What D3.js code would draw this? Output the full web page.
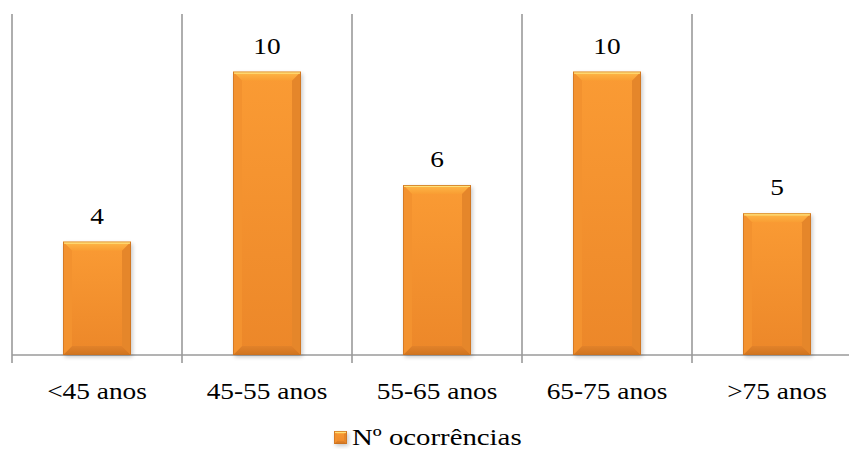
<!DOCTYPE html>
<html><head><meta charset="utf-8">
<script src="https://cdn.jsdelivr.net/npm/d3@7"></script>
<style>body{margin:0;background:#fff}svg{display:block}</style>
</head><body><svg id="c" width="849" height="450"></svg>
<script>
const categories = ["<45 anos", "45-55 anos", "55-65 anos", "65-75 anos", ">75 anos"];
const values = [4, 10, 6, 10, 5];
const seriesName = "Nº ocorrências";

(function(){
const FONT = "'Liberation Serif', 'Times New Roman', Times, serif";
const svg = d3.select("#c");
const W = 849;
const plotLeft = 12, plotRight = 862, base = 355, plotTop = 15;
const x = d3.scaleBand().domain(categories).range([plotLeft, plotRight]).paddingInner(0.6).paddingOuter(0.3);
const y = d3.scaleLinear().domain([0, 12]).range([base, plotTop]);

const defs = svg.append("defs");
function grad(id, stops){
  const g = defs.append("linearGradient").attr("id", id).attr("x1",0).attr("y1",0).attr("x2",0).attr("y2",1);
  stops.forEach(s => g.append("stop").attr("offset", s[0]).attr("stop-color", s[1]));
}
grad("gMain", [[0,"#FA9B34"],[1,"#EC8729"]]);
grad("gTop", [[0,"#FFD25E"],[0.25,"#FDB243"],[1,"#F99D33"]]);
grad("gBot", [[0,"#E2822A"],[1,"#CF741F"]]);
const f = defs.append("filter").attr("id","sh").attr("x","-20%").attr("y","-20%").attr("width","140%").attr("height","140%");
f.append("feGaussianBlur").attr("stdDeviation",2);

const step = x.step();
const bounds = d3.range(categories.length + 1).map(i => plotLeft + i * step);
svg.append("g").selectAll("line").data(bounds).join("line")
  .attr("x1", d => d).attr("x2", d => d).attr("y1", 14).attr("y2", 363)
  .attr("stroke", "#9a9a9a").attr("stroke-width", 1.6);
svg.append("line").attr("x1", plotLeft).attr("x2", W).attr("y1", base).attr("y2", base)
  .attr("stroke", "#9a9a9a").attr("stroke-width", 1.6);

function bevelBar(g, x0, x1, y0, y1, b){
  g.append("rect").attr("x", x0+1.5).attr("y", y0+2).attr("width", x1-x0).attr("height", y1-y0)
    .attr("fill", "#000").attr("opacity", 0.22).attr("filter", "url(#sh)");
  g.append("rect").attr("x", x0).attr("y", y0).attr("width", x1-x0).attr("height", y1-y0).attr("fill", "url(#gMain)");
  const poly = (pts, fill) => g.append("polygon").attr("points", pts.map(p => p.join(",")).join(" ")).attr("fill", fill);
  poly([[x0,y0],[x1,y0],[x1-b,y0+b],[x0+b,y0+b]], "url(#gTop)");
  poly([[x0,y1],[x1,y1],[x1-b,y1-b],[x0+b,y1-b]], "url(#gBot)");
  poly([[x0,y0],[x0+b,y0+b],[x0+b,y1-b],[x0,y1]], "#F3922F");
  poly([[x1,y0],[x1-b,y0+b],[x1-b,y1-b],[x1,y1]], "#E5862A");
  g.append("rect").attr("x", x0+0.5).attr("y", y0+0.5).attr("width", x1-x0-1).attr("height", y1-y0-1)
    .attr("fill", "none").attr("stroke", "#C9701F").attr("stroke-width", 1).attr("opacity", 0.7);
  g.append("line").attr("x1", x0+1).attr("x2", x1-1).attr("y1", y0+1.5).attr("y2", y0+1.5)
    .attr("stroke", "#FFE07A").attr("stroke-width", 1.2);
}

const bars = svg.append("g");
categories.forEach((c, i) => {
  bevelBar(bars.append("g"), x(c), x(c) + x.bandwidth(), y(values[i]), y(0), 9);
});

const sx = 1.14;
function stext(px, py, t){
  return svg.append("text").attr("transform", `translate(${px},${py}) scale(${sx},1)`)
    .attr("text-anchor", "middle").attr("font-family", FONT).attr("font-size", 24).attr("fill", "#000").text(t);
}
categories.forEach((c, i) => {
  stext(x(c) + x.bandwidth()/2, y(values[i]) - 18, values[i]);
  stext(x(c) + x.bandwidth()/2, 399, c);
});

const lg = svg.append("g");
bevelBar(lg, 334, 347, 431, 444, 3);
lg.append("text").attr("transform", `translate(352,445) scale(1.2,1)`)
  .attr("font-family", FONT).attr("font-size", 24).attr("fill", "#000").text(seriesName);
})();
</script></body></html>
